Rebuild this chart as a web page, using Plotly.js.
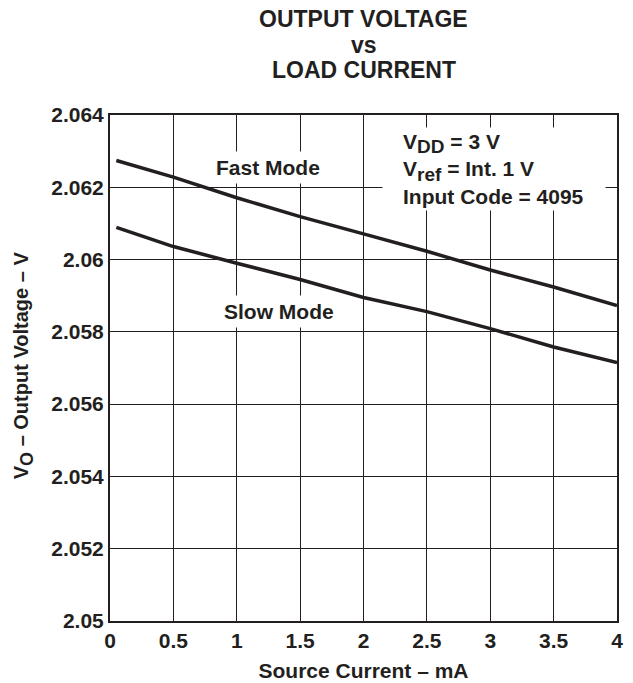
<!DOCTYPE html>
<html>
<head>
<meta charset="utf-8">
<script src="https://cdn.plot.ly/plotly-3.0.1.min.js"></script>
<style>html,body{margin:0;padding:0;background:#fff;}</style>
</head>
<body>
<div id="chart" style="width:633px;height:683px;"></div>
<script>
const current = [0.05, 0.5, 1, 1.5, 2, 2.5, 3, 3.5, 4];
const fastMode = [2.06274, 2.06228, 2.06171, 2.06119, 2.06071, 2.06023, 2.05971, 2.05924, 2.05873];
const slowMode = [2.06089, 2.06036, 2.05990, 2.05945, 2.05895, 2.05856, 2.05809, 2.05758, 2.05715];
const xTicks = [0, 0.5, 1, 1.5, 2, 2.5, 3, 3.5, 4];
const xTickText = ['0', '0.5', '1', '1.5', '2', '2.5', '3', '3.5', '4'];
const yTicks = [2.05, 2.052, 2.054, 2.056, 2.058, 2.06, 2.062, 2.064];
const yTickText = ['2.05', '2.052', '2.054', '2.056', '2.058', '2.06', '2.062', '2.064'];
const titleLines = ['OUTPUT VOLTAGE', 'vs', 'LOAD CURRENT'];

const FONT = 'Liberation Sans, Arial, Helvetica, sans-serif';
const INK = '#231f20';
const FS = 21;

const traces = [
  {x: current, y: fastMode, mode: 'lines', name: 'Fast Mode', line: {color: INK, width: 3.5}},
  {x: current, y: slowMode, mode: 'lines', name: 'Slow Mode', line: {color: INK, width: 3.5}}
];

const sub = (s, px) => '<sub><span style="font-size:' + px + 'px">' + s + '</span></sub>';

// title line centres (paper fractions above the plot area)
const titleY = [1.190, 1.139, 1.0889];
const titleAnns = titleLines.map((t, i) => ({
  xref: 'paper', yref: 'paper', x: 0.5, y: titleY[i], xanchor: 'center', yanchor: 'middle',
  text: '<b>' + t + '</b>', showarrow: false, font: {family: FONT, size: 23, color: INK}
}));

const layout = {
  width: 633, height: 683,
  margin: {l: 110, r: 16, t: 115, b: 62},
  paper_bgcolor: '#fff', plot_bgcolor: '#fff',
  showlegend: false,
  font: {family: FONT, color: INK, size: FS},
  xaxis: {
    range: [0, 4], tickvals: xTicks, ticktext: xTickText,
    showgrid: true, gridcolor: INK, gridwidth: 1,
    zeroline: false, showline: true, linecolor: INK, linewidth: 2, mirror: true,
    ticks: '', tickfont: {family: FONT, size: FS, color: INK, weight: 'bold'},
    title: {text: '<b>Source Current – mA</b>', font: {family: FONT, size: FS, color: INK}, standoff: 12}
  },
  yaxis: {
    range: [2.05, 2.064], tickvals: yTicks, ticktext: yTickText,
    showgrid: true, gridcolor: INK, gridwidth: 1,
    zeroline: false, showline: true, linecolor: INK, linewidth: 2, mirror: true,
    ticks: '', tickfont: {family: FONT, size: FS, color: INK, weight: 'bold'}
  },
  annotations: titleAnns.concat([
    {xref: 'paper', yref: 'paper', x: -0.17, y: 0.505, xanchor: 'center', yanchor: 'middle',
     textangle: -90, text: '<b>V' + sub('O', 18) + ' – Output Voltage – V</b>', showarrow: false,
     font: {family: FONT, size: 20, color: INK}},
    {x: 1.25, y: 2.06256, xref: 'x', yref: 'y', text: '<b>Fast Mode</b>', showarrow: false,
     font: {family: FONT, size: FS, color: INK}, bgcolor: '#fff', borderpad: 4},
    {x: 1.33, y: 2.05856, xref: 'x', yref: 'y', text: '<b>Slow Mode</b>', showarrow: false,
     font: {family: FONT, size: FS, color: INK}, bgcolor: '#fff', borderpad: 4},
    {x: 2.146, y: 2.0625, xref: 'x', yref: 'y', xanchor: 'left', yanchor: 'middle',
     text: ' ', width: 222, height: 82, showarrow: false, bgcolor: '#fff', borderpad: 0},
    {x: 2.301, y: 2.0625, xref: 'x', yref: 'y', xanchor: 'left', yanchor: 'middle', align: 'left',
     text: '<b>V' + sub('DD', 19) + ' = 3 V<br>V' + sub('ref', 19) + ' = Int. 1 V<br>Input Code = 4095</b>', showarrow: false,
     font: {family: FONT, size: FS, color: INK}, borderpad: 0}
  ])
};

Plotly.newPlot('chart', traces, layout, {displayModeBar: false, staticPlot: true});
</script>
</body>
</html>
